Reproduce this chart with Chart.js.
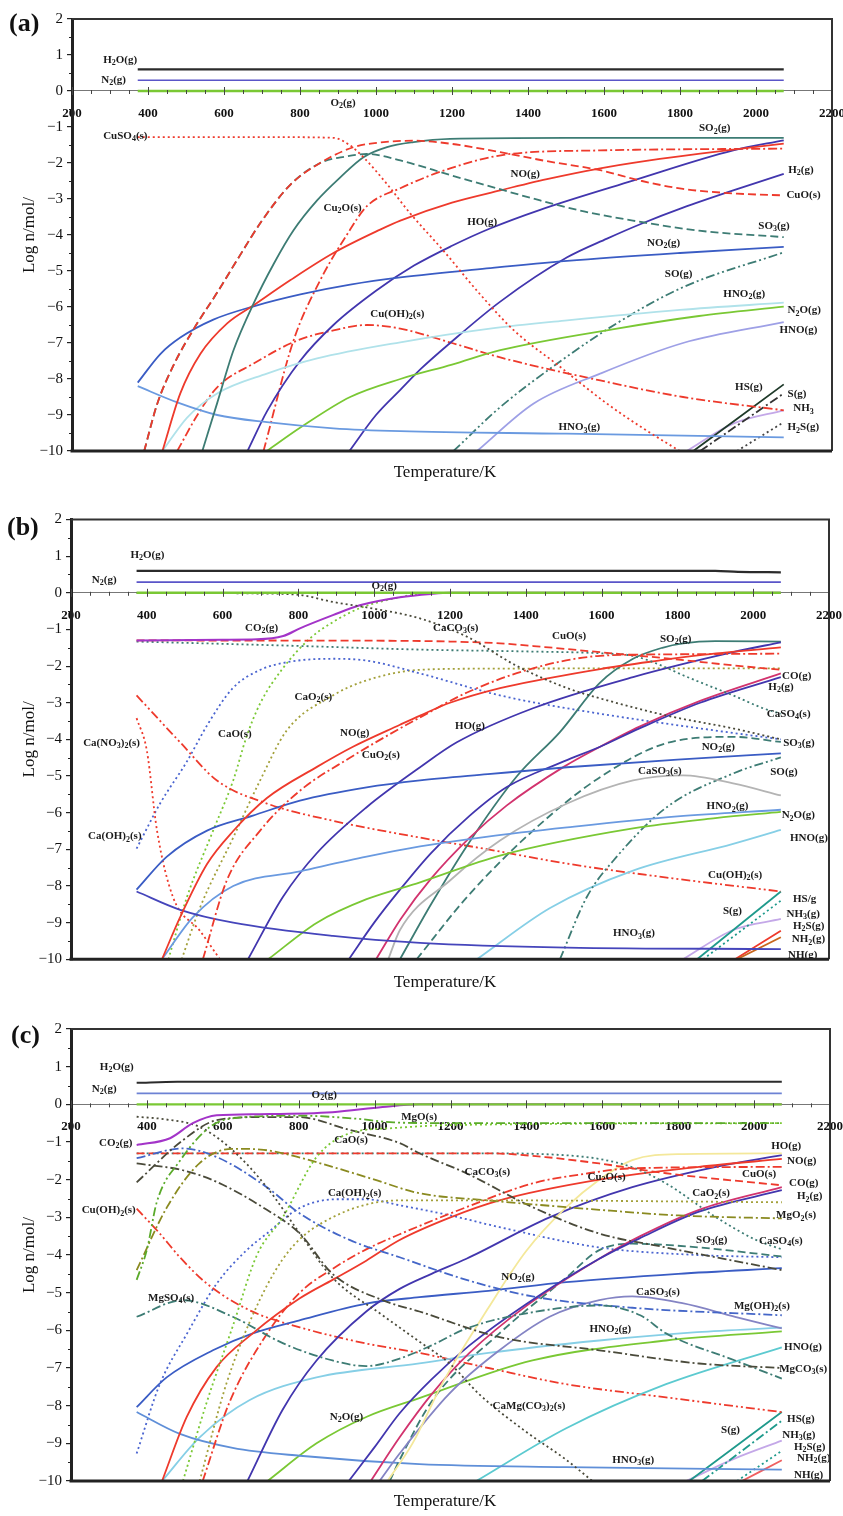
<!DOCTYPE html>
<html>
<head>
<meta charset="utf-8">
<title>Equilibrium composition vs temperature</title>
<script src="https://cdn.jsdelivr.net/npm/chart.js@4.4.1/dist/chart.umd.min.js"></script>
<style>
  body { margin: 0; background: #fff; }
  #wrap { position: relative; width: 843px; height: 1516px; }
  canvas { position: absolute; left: 0; }
</style>
</head>
<body>
<div id="wrap">
  <canvas id="chartA" width="843" height="490" style="top:0"></canvas>
  <canvas id="chartB" width="843" height="505" style="top:495px"></canvas>
  <canvas id="chartC" width="843" height="511" style="top:1005px"></canvas>
</div>
<script>
// Axis ticks
const T_TICKS = [200, 400, 600, 800, 1000, 1200, 1400, 1600, 1800, 2000, 2200];
const LOG_TICKS = [2, 1, 0, -1, -2, -3, -4, -5, -6, -7, -8, -9, -10];

// ---------- panel (a) : [T/K, log n] ----------
const aH2O = [[373, 0.6], [2073, 0.6]];
const aN2 = [[373, 0.3], [2073, 0.3]];
const aO2 = [[373, 0], [2073, 0]];
const aCuSO4 = [[373, -1.28], [700, -1.28], [888, -1.3], [930, -1.5], [967, -1.84], [1030, -2.6], [1090, -3.4], [1177, -4.43], [1270, -5.6], [1363, -6.65], [1477, -7.6], [1606, -8.67], [1700, -9.35], [1800, -10], [1850, -10.3]];
const aCuO = [[390, -10], [424, -8.7], [468, -7.6], [521, -6.6], [582, -5.6], [640, -4.6], [700, -3.6], [775, -2.6], [853, -2.0], [941, -1.56], [1020, -1.42], [1100, -1.38], [1200, -1.47], [1327, -1.7], [1450, -1.95], [1590, -2.2], [1700, -2.5], [1808, -2.72], [1950, -2.85], [2073, -2.9]];
const aSO3 = [[390, -10], [424, -8.7], [468, -7.6], [521, -6.6], [582, -5.6], [640, -4.6], [700, -3.6], [775, -2.6], [853, -2.0], [920, -1.82], [976, -1.75], [1064, -1.93], [1200, -2.35], [1300, -2.65], [1432, -3.04], [1550, -3.35], [1676, -3.6], [1850, -3.88], [2073, -4.06]];
const aSO2 = [[543, -10], [582, -8.67], [625, -7.2], [678, -5.9], [731, -4.8], [783, -3.87], [845, -3.04], [906, -2.4], [967, -1.84], [1029, -1.56], [1099, -1.42], [1195, -1.33], [1500, -1.3], [2073, -1.3]];
const aNO = [[438, -10], [485, -8.4], [538, -7.3], [609, -6.45], [678, -5.95], [775, -5.25], [888, -4.5], [1011, -3.85], [1064, -3.6], [1200, -3.1], [1327, -2.76], [1450, -2.45], [1590, -2.15], [1720, -1.93], [1853, -1.74], [2073, -1.46]];
const aNO2 = [[373, -8.1], [433, -7.3], [485, -6.85], [572, -6.35], [678, -5.98], [801, -5.65], [932, -5.38], [1064, -5.18], [1300, -4.92], [1503, -4.72], [1800, -4.5], [2073, -4.33]];
const aHNO3 = [[373, -8.2], [477, -8.65], [582, -9.0], [713, -9.2], [888, -9.37], [1064, -9.45], [1500, -9.52], [2073, -9.62]];
const aHNO2 = [[438, -10], [503, -9.07], [582, -8.4], [713, -7.85], [845, -7.43], [1064, -6.98], [1300, -6.6], [1503, -6.37], [1800, -6.08], [2073, -5.88]];
const aN2O = [[713, -10], [801, -9.35], [932, -8.5], [1064, -8.0], [1200, -7.6], [1327, -7.2], [1634, -6.6], [1850, -6.25], [2073, -5.99]];
const aHO = [[662, -10], [713, -8.9], [800, -7.5], [888, -6.5], [1000, -5.55], [1100, -4.85], [1200, -4.3], [1300, -3.82], [1432, -3.3], [1676, -2.49], [1940, -1.65], [2073, -1.37]];
const aH2 = [[930, -10], [1000, -9.0], [1064, -8.3], [1120, -7.7], [1195, -7.0], [1327, -5.85], [1503, -4.62], [1608, -4.1], [1700, -3.68], [1808, -3.24], [1940, -2.76], [2073, -2.3]];
const aHNO = [[1266, -10], [1415, -8.68], [1590, -7.85], [1808, -7.0], [2073, -6.42]];
const aSO = [[1204, -10], [1327, -8.78], [1477, -7.57], [1634, -6.45], [1808, -5.45], [2073, -4.48]];
const aCuOH2 = [[477, -10], [530, -9.0], [582, -8.23], [678, -7.57], [793, -6.93], [888, -6.65], [976, -6.5], [1064, -6.6], [1200, -7.0], [1327, -7.4], [1590, -8.04], [1808, -8.5], [2073, -8.87]];
const aCu2O = [[704, -10], [783, -6.93], [853, -5.26], [923, -4.0], [976, -3.2], [1064, -2.7], [1195, -2.15], [1345, -1.76], [1590, -1.65], [2073, -1.6]];
const aHS = [[1835, -10], [2073, -8.15]];
const aS = [[1853, -10], [2073, -8.4]];
const aNH3 = [[1818, -10], [1940, -9.24], [2073, -8.87]];
const aH2S = [[1950, -10], [2073, -9.2]];

// ---------- panel (b) ----------
const bH2O = [[373, 0.6], [1900, 0.6], [1960, 0.57], [2073, 0.56]];
const bN2 = [[373, 0.29], [2073, 0.29]];
const bO2 = [[373, 0], [2073, 0]];
const bCO2 = [[373, -1.3], [600, -1.28], [691, -1.27], [760, -1.18], [804, -0.97], [891, -0.61], [962, -0.34], [1068, -0.12], [1150, -0.03], [1200, 0], [2073, 0]];
const bCaCO3 = [[373, 0], [700, -0.02], [804, -0.06], [891, -0.25], [980, -0.4], [1121, -0.7], [1245, -1.2], [1377, -2.0], [1509, -2.6], [1596, -2.88], [1772, -3.35], [1947, -3.7], [2073, -4.0]];
const bCuO = [[373, -1.3], [1068, -1.31], [1200, -1.33], [1332, -1.38], [1450, -1.48], [1596, -1.62], [1772, -1.79], [1947, -1.98], [2073, -2.1]];
const bCaSO4 = [[373, -1.33], [800, -1.45], [1121, -1.55], [1400, -1.6], [1596, -1.65], [1683, -1.72], [1750, -1.95], [1815, -2.25], [1947, -2.8], [2026, -3.15], [2073, -3.3]];
const bCuO2 = [[548, -10], [611, -7.85], [699, -6.49], [804, -5.4], [936, -4.5], [1068, -3.7], [1121, -3.4], [1245, -2.72], [1419, -2.06], [1596, -1.72], [1772, -1.68], [2073, -1.66]];
const bNO = [[440, -10], [488, -8.85], [559, -7.4], [628, -6.5], [717, -5.6], [849, -4.75], [944, -4.2], [1068, -3.6], [1121, -3.35], [1200, -3.0], [1332, -2.6], [1450, -2.35], [1596, -2.08], [1750, -1.85], [1860, -1.7], [2073, -1.49]];
const bNO2 = [[373, -8.1], [453, -7.2], [559, -6.49], [680, -6.08], [804, -5.67], [980, -5.31], [1121, -5.12], [1300, -4.95], [1509, -4.76], [1800, -4.55], [2073, -4.38]];
const bHNO3 = [[373, -8.15], [488, -8.65], [628, -9.0], [891, -9.36], [1121, -9.55], [1509, -9.68], [2073, -9.72]];
const bHNO2 = [[440, -10], [522, -8.85], [628, -8.0], [804, -7.6], [980, -7.2], [1121, -6.92], [1300, -6.65], [1509, -6.4], [1800, -6.1], [2073, -5.92]];
const bN2O = [[720, -10], [849, -9.0], [980, -8.36], [1121, -7.9], [1332, -7.17], [1683, -6.43], [1900, -6.15], [2073, -5.98]];
const bHO = [[667, -10], [759, -8.3], [849, -7.1], [980, -5.85], [1121, -4.76], [1218, -4.08], [1419, -3.15], [1683, -2.3], [1947, -1.62], [2073, -1.35]];
const bH2 = [[933, -10], [1000, -9.0], [1068, -8.1], [1150, -7.1], [1250, -6.1], [1350, -5.3], [1500, -4.6], [1596, -4.2], [1700, -3.7], [1860, -3.0], [2073, -2.3]];
const bCO = [[1005, -10], [1070, -8.9], [1150, -7.8], [1250, -6.7], [1350, -5.8], [1500, -4.75], [1596, -4.2], [1700, -3.65], [1860, -2.95], [2073, -2.2]];
const bCaSO3 = [[1037, -10], [1068, -9.2], [1200, -7.85], [1332, -6.76], [1509, -5.75], [1683, -5.12], [1815, -4.98], [1947, -5.2], [2073, -5.53]];
const bSO2 = [[1068, -10], [1150, -8.5], [1245, -6.9], [1377, -5.0], [1490, -3.8], [1596, -2.45], [1683, -1.8], [1760, -1.5], [1815, -1.38], [1900, -1.32], [2073, -1.33]];
const bSO3 = [[1112, -10], [1245, -8.3], [1419, -6.49], [1596, -5.03], [1772, -4.1], [1947, -3.93], [2073, -4.07]];
const bSO = [[1490, -10], [1561, -8.3], [1640, -7.2], [1772, -5.85], [1947, -4.93], [2073, -4.49]];
const bHNO = [[1271, -10], [1464, -8.6], [1683, -7.58], [1947, -6.85], [2073, -6.47]];
const bCuOH2 = [[373, -2.8], [488, -4.08], [585, -5.12], [717, -5.75], [891, -6.22], [1121, -6.68], [1300, -7.0], [1509, -7.39], [1772, -7.77], [2073, -8.15]];
const bCaNO32 = [[373, -3.42], [400, -4.3], [427, -6.49], [469, -8.3], [540, -9.22], [593, -10]];
const bCaOH2 = [[373, -6.98], [435, -5.75], [506, -4.6], [560, -3.6], [627, -2.6], [700, -2.1], [778, -1.88], [891, -1.8], [980, -1.85], [1121, -2.2], [1332, -2.8], [1596, -3.3], [1860, -3.7], [2073, -4.0]];
const bCaO = [[457, -10], [506, -8.3], [575, -6.49], [628, -5.12], [664, -3.9], [700, -3.0], [759, -2.06], [831, -1.24], [891, -0.8], [962, -0.42], [1068, -0.12], [1150, 0], [2073, 0]];
const bCaO2 = [[492, -10], [540, -8.6], [628, -6.68], [699, -5.12], [769, -3.76], [891, -2.8], [980, -2.39], [1121, -2.1], [1300, -2.07], [2073, -2.06]];
const bHS = [[1852, -10], [2073, -8.15]];
const bNH3 = [[1868, -10], [2073, -8.4]];
const bH2S = [[1815, -10], [1947, -9.2], [2073, -8.9]];
const bNH2 = [[1957, -10], [2073, -9.4]];
const bNH = [[1952, -10], [2073, -9.22]];

// ---------- panel (c) ----------
const cH2O = [[373, 0.57], [480, 0.6], [2073, 0.6]];
const cN2 = [[373, 0.29], [2073, 0.29]];
const cO2 = [[373, 0], [2073, 0]];
const cCO2 = [[373, -1.08], [461, -0.9], [521, -0.5], [584, -0.29], [697, -0.26], [889, -0.21], [1021, -0.07], [1118, 0], [2073, 0]];
const cMgO = [[373, -4.66], [400, -3.86], [426, -2.6], [487, -1.5], [566, -0.6], [620, -0.38], [800, -0.3], [950, -0.38], [1050, -0.48], [1200, -0.5], [2073, -0.5]];
const cCaO = [[495, -10], [558, -7.9], [626, -5.9], [690, -4.0], [758, -3.0], [847, -1.4], [934, -0.77], [1050, -0.63], [1200, -0.55], [2073, -0.5]];
const cCaO2 = [[539, -10], [610, -7.4], [697, -5.2], [776, -3.87], [889, -3.0], [1066, -2.55], [1300, -2.55], [2073, -2.6]];
const cMgO2 = [[373, -4.4], [453, -2.73], [539, -1.56], [626, -1.18], [700, -1.2], [758, -1.3], [889, -1.66], [1000, -2.0], [1118, -2.36], [1300, -2.55], [1592, -2.8], [1800, -2.95], [2073, -3.03]];
const cCaMgCO32 = [[373, -0.33], [450, -0.4], [539, -0.6], [626, -1.22], [716, -2.2], [803, -3.43], [889, -4.6], [1021, -5.6], [1118, -6.3], [1200, -6.9], [1276, -7.7], [1400, -8.7], [1500, -9.4], [1574, -10]];
const cCaCO3 = [[373, -2.07], [495, -0.95], [584, -0.42], [697, -0.34], [800, -0.34], [934, -0.68], [1066, -1.03], [1118, -1.3], [1242, -1.83], [1416, -2.73], [1592, -3.43], [1768, -3.8], [2073, -4.4]];
const cMgCO3 = [[373, -1.57], [495, -1.75], [584, -2.06], [716, -2.8], [803, -3.43], [889, -4.5], [1021, -5.2], [1118, -5.5], [1329, -6.18], [1592, -6.53], [1855, -6.88], [2073, -7.0]];
const cMgSO4 = [[373, -5.64], [495, -5.2], [626, -5.64], [758, -6.34], [889, -6.8], [978, -6.95], [1066, -6.75], [1150, -6.4], [1242, -5.95], [1416, -5.52], [1592, -5.34], [1700, -5.6], [1768, -6.08], [1950, -6.8], [2073, -7.28]];
const cMgOH2 = [[373, -1.43], [495, -1.17], [584, -1.4], [716, -2.2], [803, -2.9], [934, -3.6], [1066, -4.06], [1242, -4.66], [1416, -5.1], [1679, -5.4], [2073, -5.6]];
const cCuO = [[373, -1.3], [1300, -1.3], [1450, -1.4], [1592, -1.57], [1768, -1.83], [2073, -2.15]];
const cCaSO4 = [[373, -1.3], [1300, -1.3], [1500, -1.35], [1592, -1.45], [1679, -1.67], [1768, -2.1], [1900, -3.0], [2005, -3.6], [2073, -3.85]];
const cCu2O = [[547, -10], [618, -7.9], [716, -6.1], [803, -5.0], [900, -4.3], [978, -3.85], [1066, -3.45], [1242, -2.73], [1416, -2.1], [1550, -1.85], [1679, -1.7], [2073, -1.66]];
const cNO = [[440, -10], [505, -8.3], [584, -6.97], [679, -6.08], [803, -5.15], [900, -4.6], [978, -4.15], [1066, -3.6], [1200, -3.0], [1329, -2.55], [1592, -2.0], [1855, -1.66], [2073, -1.45]];
const cSO2 = [[1034, -10], [1100, -9.0], [1179, -7.4], [1300, -5.4], [1399, -3.9], [1505, -2.73], [1592, -2.0], [1679, -1.48], [1811, -1.32], [2073, -1.3]];
const cHO = [[665, -10], [758, -8.1], [847, -6.8], [978, -5.5], [1066, -4.9], [1150, -4.5], [1242, -4.1], [1461, -3.0], [1679, -2.2], [1900, -1.66], [2073, -1.35]];
const cH2 = [[932, -10], [1000, -9.1], [1066, -8.2], [1150, -7.3], [1250, -6.4], [1400, -5.3], [1592, -4.1], [1700, -3.55], [1855, -2.85], [2073, -2.28]];
const cCO = [[990, -10], [1066, -8.84], [1150, -7.7], [1250, -6.6], [1400, -5.35], [1592, -4.1], [1700, -3.5], [1855, -2.8], [2073, -2.2]];
const cCaSO3 = [[1013, -10], [1066, -9.27], [1197, -7.68], [1329, -6.53], [1461, -5.64], [1592, -5.2], [1679, -5.1], [1811, -5.28], [1950, -5.64], [2073, -5.95]];
const cSO3 = [[1040, -10], [1066, -9.44], [1153, -7.85], [1329, -6.08], [1505, -4.6], [1592, -3.87], [1679, -3.7], [1855, -3.8], [2073, -4.04]];
const cNO2 = [[373, -8.04], [452, -7.25], [574, -6.53], [679, -6.08], [800, -5.74], [978, -5.29], [1118, -5.12], [1300, -4.95], [1505, -4.72], [1800, -4.5], [2073, -4.35]];
const cHNO3 = [[373, -8.17], [487, -8.75], [626, -9.12], [803, -9.33], [1118, -9.55], [1505, -9.63], [2073, -9.7]];
const cHNO2 = [[440, -10], [539, -8.84], [671, -7.85], [847, -7.25], [1118, -6.88], [1300, -6.6], [1592, -6.27], [1850, -6.05], [2073, -5.93]];
const cN2O = [[718, -10], [847, -9.0], [978, -8.3], [1118, -7.8], [1416, -6.8], [1768, -6.27], [2073, -6.03]];
const cHNO = [[1268, -10], [1505, -8.6], [1768, -7.43], [2073, -6.45]];
const cCuOH2 = [[373, -2.77], [434, -3.43], [487, -4.06], [558, -4.76], [671, -5.47], [803, -5.92], [978, -6.35], [1118, -6.6], [1300, -7.0], [1505, -7.43], [1768, -7.78], [2073, -8.17]];
const cCaOH2 = [[373, -9.27], [434, -7.43], [505, -6.1], [584, -4.76], [663, -3.87], [716, -3.43], [803, -2.75], [900, -2.52], [978, -2.52], [1066, -2.68], [1200, -2.95], [1329, -3.26], [1592, -3.8], [1850, -4.0], [2073, -4.06]];
const cHS = [[1829, -10], [2073, -8.17]];
const cNH3 = [[1863, -10], [2073, -8.4]];
const cH2S = [[1821, -10], [1950, -9.4], [2073, -8.93]];
const cNH2 = [[1955, -10], [2073, -9.2]];
const cNH = [[1968, -10], [2073, -9.45]];

// Species labels: [text, T at left edge of text, log n]
const labelsA = [
  ['H2O(g)', 282, 0.85], ['N2(g)', 277, 0.3], ['O2(g)', 880, -0.34], ['CuSO4(s)', 282, -1.26],
  ['SO2(g)', 1850, -1.04], ['NO(g)', 1354, -2.3], ['H2(g)', 2085, -2.2], ['CuO(s)', 2080, -2.9],
  ['Cu2O(s)', 862, -3.26], ['HO(g)', 1240, -3.65], ['SO3(g)', 2006, -3.76], ['NO2(g)', 1713, -4.23],
  ['SO(g)', 1760, -5.1], ['HNO2(g)', 1914, -5.65], ['N2O(g)', 2083, -6.1], ['Cu(OH)2(s)', 985, -6.2],
  ['HNO(g)', 2062, -6.65], ['HS(g)', 1945, -8.23], ['S(g)', 2083, -8.43], ['NH3', 2098, -8.82],
  ['HNO3(g)', 1480, -9.35], ['H2S(g)', 2083, -9.35]
];
const labelsB = [
  ['H2O(g)', 357, 1.03], ['N2(g)', 255, 0.34], ['O2(g)', 993, 0.18], ['CO2(g)', 659, -0.97],
  ['CaCO3(s)', 1155, -0.97], ['CuO(s)', 1469, -1.19], ['SO2(g)', 1754, -1.27], ['CaO2(s)', 790, -2.84],
  ['CO(g)', 2076, -2.28], ['H2(g)', 2040, -2.58], ['CaSO4(s)', 2036, -3.3], ['Ca(NO3)2(s)', 232, -4.1],
  ['CaO(s)', 588, -3.87], ['NO(g)', 910, -3.83], ['CuO2(s)', 967, -4.43], ['HO(g)', 1213, -3.64],
  ['SO3(g)', 2079, -4.1], ['NO2(g)', 1864, -4.2], ['CaSO3(s)', 1696, -4.87], ['SO(g)', 2045, -4.9],
  ['Ca(OH)2(s)', 245, -6.65], ['HNO2(g)', 1877, -5.83], ['N2O(g)', 2075, -6.08], ['HNO(g)', 2097, -6.7],
  ['Cu(OH)2(s)', 1881, -7.7], ['HS/g', 2105, -8.37], ['S(g)', 1920, -8.7], ['NH3(g)', 2088, -8.77],
  ['H2S(g)', 2105, -9.1], ['NH2(g)', 2102, -9.46], ['NH(g)', 2092, -9.9], ['HNO3(g)', 1630, -9.3]
];
const labelsC = [
  ['H2O(g)', 276, 0.99], ['N2(g)', 255, 0.4], ['O2(g)', 834, 0.24], ['MgO(s)', 1070, -0.34],
  ['CO2(g)', 274, -1.03], ['CaO(s)', 894, -0.95], ['CaCO3(s)', 1237, -1.8], ['Cu2O(s)', 1561, -1.93],
  ['HO(g)', 2045, -1.11], ['NO(g)', 2087, -1.51], ['CuO(s)', 1968, -1.85], ['CO(g)', 2092, -2.1],
  ['CaO2(s)', 1837, -2.37], ['H2(g)', 2113, -2.45], ['Ca(OH)2(s)', 877, -2.37], ['MgO2(s)', 2058, -2.95],
  ['Cu(OH)2(s)', 228, -2.82], ['SO3(g)', 1847, -3.6], ['CaSO4(s)', 2013, -3.63], ['NO2(g)', 1334, -4.58],
  ['CaSO3(s)', 1689, -4.98], ['Mg(OH)2(s)', 1947, -5.36], ['MgSO4(s)', 403, -5.15], ['HNO2(g)', 1566, -5.97],
  ['HNO(g)', 2079, -6.45], ['MgCO3(s)', 2066, -7.03], ['N2O(g)', 882, -8.3], ['CaMg(CO3)2(s)', 1311, -8.0],
  ['HS(g)', 2087, -8.37], ['S(g)', 1913, -8.66], ['NH3(g)', 2074, -8.77], ['H2S(g)', 2105, -9.1],
  ['NH2(g)', 2113, -9.4], ['HNO3(g)', 1626, -9.45], ['NH(g)', 2105, -9.85]
];

// line styles
const DASH = { solid: [], dash: [8, 4], dot: [2, 3], dashdot: [9, 3, 2, 3], dashdotdot: [9, 3, 2, 3, 2, 3] };
const SERIF = '"Liberation Serif", "Times New Roman", serif';

function line(data, color, dash, width) {
    return {
        data: data,
        borderColor: color,
        borderDash: DASH[dash || 'solid'],
        borderWidth: width || 1.8,
        pointRadius: 0,
        fill: false,
        cubicInterpolationMode: 'monotone'
    };
}

// chemical formula with subscript digits
function drawChem(ctx, text, x, y) {
    const parts = text.match(/\d+|[^\d]+/g);
    let cx = x;
    parts.forEach(p => {
        const sub = /^\d/.test(p);
        ctx.font = (sub ? 'bold 8px ' : 'bold 11px ') + SERIF;
        ctx.fillText(p, cx, sub ? y + 3 : y);
        cx += ctx.measureText(p).width;
    });
}

const decor = {
    id: 'decor',
    afterDatasetsDraw(chart, args, opts) {
        const { ctx, scales: { x, y } } = chart;
        ctx.save();
        ctx.fillStyle = '#1a1a1a';
        ctx.textBaseline = 'middle';
        ctx.textAlign = 'left';
        opts.labels.forEach(l => drawChem(ctx, l[0], x.getPixelForValue(l[1]), y.getPixelForValue(l[2])));
        ctx.restore();
    },
    afterDraw(chart, args, opts) {
        const { ctx, chartArea: a, scales: { x, y } } = chart;
        ctx.save();
        // ticks on the T axis (drawn at log n = 0)
        const y0 = y.getPixelForValue(0);
        ctx.strokeStyle = '#444';
        ctx.lineWidth = 1;
        for (let t = 200; t <= 2200; t += 50) {
            const px = Math.round(x.getPixelForValue(t)) + 0.5;
            const major = t % 200 === 0;
            ctx.beginPath();
            ctx.moveTo(px, y0 - (major ? 4 : 1));
            ctx.lineTo(px, y0 + (major ? 4 : 3));
            ctx.stroke();
        }
        // minor ticks on the log n axis
        ctx.strokeStyle = '#222';
        for (let v = -9.5; v < 2; v += 1) {
            const py = Math.round(y.getPixelForValue(v)) + 0.5;
            ctx.beginPath();
            ctx.moveTo(a.left - 3, py);
            ctx.lineTo(a.left, py);
            ctx.stroke();
        }
        // frame
        ctx.strokeStyle = '#333';
        ctx.lineWidth = 2;
        ctx.beginPath();
        ctx.moveTo(a.left, a.top);
        ctx.lineTo(a.right, a.top);
        ctx.lineTo(a.right, a.bottom);
        ctx.stroke();
        ctx.strokeStyle = '#222';
        ctx.lineWidth = 3;
        ctx.beginPath();
        ctx.moveTo(a.left - 1.5, a.bottom);
        ctx.lineTo(a.right, a.bottom);
        ctx.stroke();
        // panel tag and T title
        ctx.fillStyle = '#111';
        ctx.textBaseline = 'middle';
        ctx.textAlign = 'left';
        ctx.font = 'bold 26px ' + SERIF;
        ctx.fillText(opts.tag, opts.tagX, opts.tagY);
        ctx.textAlign = 'center';
        ctx.font = '17px ' + SERIF;
        ctx.fillText('Temperature/K', 445, opts.footY);
        ctx.restore();
    }
};

function makeChart(id, datasets, labels, box) {
    return new Chart(document.getElementById(id), {
        type: 'line',
        data: { datasets: datasets },
        options: {
            responsive: false,
            animation: false,
            devicePixelRatio: 1,
            layout: { padding: { left: 0, top: box.top, right: box.right, bottom: box.bottom } },
            plugins: {
                legend: { display: false },
                tooltip: { enabled: false },
                decor: { labels: labels, tag: box.tag, tagX: box.tagX, tagY: box.tagY, footY: box.footY }
            },
            scales: {
                x: {
                    type: 'linear',
                    min: 200, max: 2200,
                    position: { y: 0 },
                    afterBuildTicks: s => { s.ticks = T_TICKS.map(v => ({ value: v })); },
                    afterFit: s => { s.paddingLeft = 0; s.paddingRight = 0; },
                    ticks: { autoSkip: false, maxRotation: 0, padding: 15, color: '#111', font: { family: SERIF, size: 13, weight: 'bold' }, callback: v => String(v) },
                    grid: { display: false, drawTicks: false },
                    border: { color: '#777', width: 1 }
                },
                y: {
                    type: 'linear',
                    min: -10, max: 2,
                    afterBuildTicks: s => { s.ticks = LOG_TICKS.map(v => ({ value: v })); },
                    afterFit: s => { s.width = box.left; },
                    ticks: { padding: 4, color: '#111', font: { family: SERIF, size: 15 }, callback: v => String(v).replace('-', '\u2212') },
                    grid: { drawOnChartArea: false, tickLength: 5, color: '#222', lineWidth: 1.2 },
                    border: { color: '#222', width: 3 },
                    title: { display: true, text: 'Log n/mol/', color: '#111', font: { family: SERIF, size: 17 }, padding: { top: 19 } }
                }
            }
        },
        plugins: [decor]
    });
}

// colours
const BLACK = '#2b2b2b', N2C = '#5a55c8', GREEN = '#7ac834', TEAL = '#3d7c74', RED = '#ee3a2c',
      BLUE = '#3a5cc4', CORN = '#6a9ae0', CYAN = '#b0e2ea', INDIGO = '#4236ae', LAV = '#9ea0e6',
      PURPLE = '#a334c8', OLIVE = '#a3a03a', DARK = '#4a4a3a', GRAY = '#b4b4b4', CRIMSON = '#d2336e',
      ORANGE = '#c8661c', SEA = '#1f9a8c', LILAC = '#c4a8e8', YELLOW = '#f4e89a', SKY = '#86cfe6',
      DOTBLUE = '#4a64d0';

makeChart('chartA', [
    line(aH2O, BLACK, 'solid', 2.2), line(aN2, N2C, 'solid', 1.6), line(aO2, GREEN, 'solid', 2.6),
    line(aCuSO4, RED, 'dot'), line(aCuO, RED, 'dash'), line(aSO3, TEAL, 'dash'),
    line(aSO2, TEAL), line(aNO, RED), line(aNO2, BLUE), line(aHNO3, CORN),
    line(aHNO2, CYAN), line(aN2O, GREEN), line(aHO, INDIGO), line(aH2, INDIGO),
    line(aHNO, LAV), line(aSO, TEAL, 'dashdotdot'), line(aCuOH2, RED, 'dashdot'), line(aCu2O, RED, 'dashdot'),
    line(aHS, '#1f3a2a'), line(aS, '#333', 'dashdot'), line(aNH3, LILAC), line(aH2S, '#444', 'dot')
], labelsA, { left: 72, top: 19, right: 11, bottom: 39, tag: '(a)', tagX: 9, tagY: 24, footY: 473 });

makeChart('chartB', [
    line(bH2O, BLACK, 'solid', 2.2), line(bN2, N2C, 'solid', 1.8), line(bO2, GREEN, 'solid', 2.4),
    line(bCaCO3, DARK, 'dot'), line(bCO2, PURPLE, 'solid', 2), line(bCuO, RED, 'dash'),
    line(bCaSO4, TEAL, 'dot'), line(bCuO2, RED, 'dashdot'), line(bNO, RED), line(bNO2, BLUE),
    line(bHNO3, '#4545bb'), line(bHNO2, CORN), line(bN2O, GREEN), line(bHO, INDIGO),
    line(bH2, INDIGO), line(bCO, CRIMSON), line(bCaSO3, GRAY), line(bSO2, TEAL),
    line(bSO3, TEAL, 'dash'), line(bSO, TEAL, 'dashdotdot'), line(bHNO, SKY), line(bCuOH2, RED, 'dashdotdot'),
    line(bCaNO32, RED, 'dot'), line(bCaOH2, DOTBLUE, 'dot'), line(bCaO, GREEN, 'dot'), line(bCaO2, OLIVE, 'dot'),
    line(bHS, SEA), line(bNH3, SEA, 'dot'), line(bH2S, LILAC), line(bNH2, ORANGE), line(bNH, RED)
], labelsB, { left: 71, top: 24.5, right: 14, bottom: 40.7, tag: '(b)', tagX: 7, tagY: 33, footY: 488 });

makeChart('chartC', [
    line(cH2O, BLACK, 'solid', 2), line(cN2, '#6d82d4', 'solid', 1.8), line(cO2, GREEN, 'solid', 2.4),
    line(cCO2, PURPLE, 'solid', 2), line(cMgO, '#5aaa2a', 'dashdotdot'), line(cCaO, GREEN, 'dot'),
    line(cCaO2, OLIVE, 'dot'), line(cMgO2, '#8a8a20', 'dashdot'), line(cCaMgCO32, DARK, 'dot'),
    line(cCaCO3, DARK, 'dashdot'), line(cMgCO3, DARK, 'dashdot'), line(cMgSO4, TEAL, 'dashdot'),
    line(cMgOH2, '#4466c8', 'dashdot'), line(cCuO, RED, 'dash'), line(cCaSO4, TEAL, 'dot'),
    line(cCu2O, RED, 'dashdot'), line(cNO, RED), line(cSO2, YELLOW), line(cHO, INDIGO),
    line(cH2, INDIGO), line(cCO, CRIMSON), line(cCaSO3, '#8484c4'), line(cSO3, TEAL, 'dash'),
    line(cNO2, BLUE), line(cHNO3, '#5f8fd8'), line(cHNO2, SKY), line(cN2O, GREEN), line(cHNO, '#5ccad0'),
    line(cCuOH2, RED, 'dashdotdot'), line(cCaOH2, DOTBLUE, 'dot'),
    line(cHS, SEA), line(cNH3, SEA, 'dashdot'), line(cH2S, LILAC), line(cNH2, SEA, 'dot'), line(cNH, '#f06060')
], labelsC, { left: 71, top: 24, right: 13, bottom: 35, tag: '(c)', tagX: 11, tagY: 31, footY: 497 });
</script>
</body>
</html>
